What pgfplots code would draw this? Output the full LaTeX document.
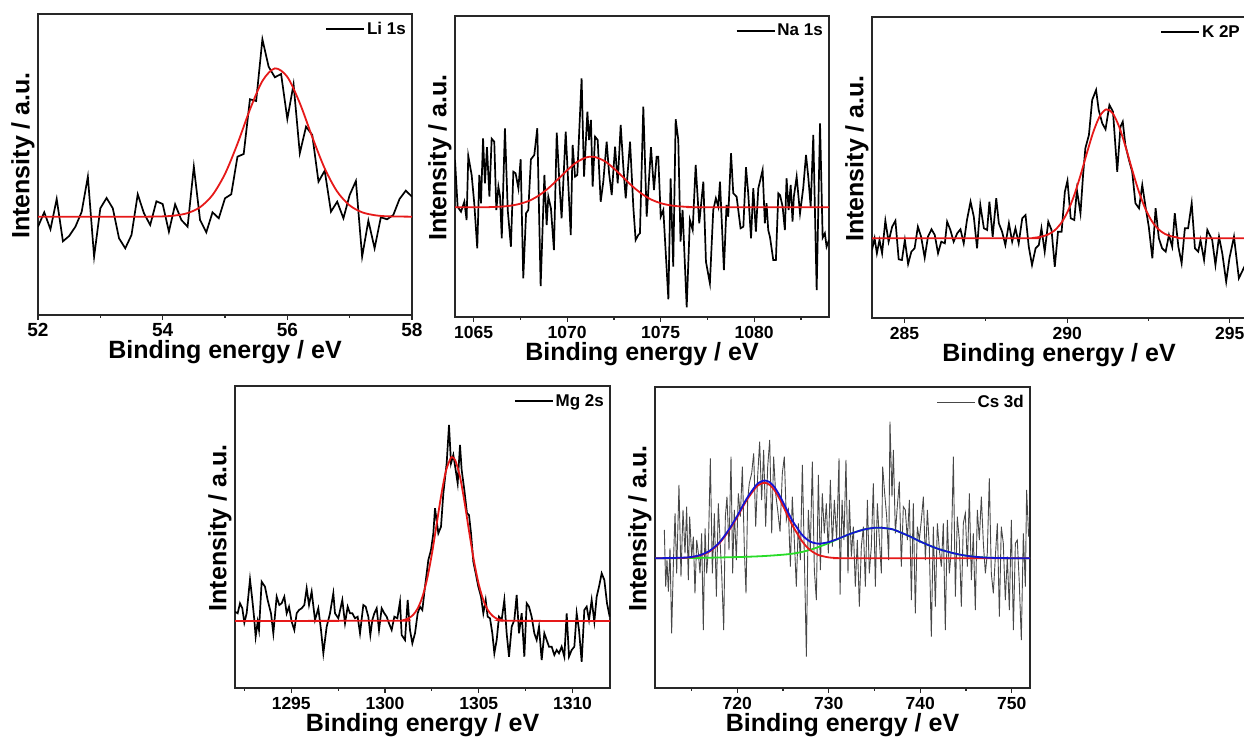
\documentclass[border=0pt]{standalone}
\usepackage{fontspec}
\setmainfont{Liberation Sans}
\usepackage{pgfplots}
\pgfplotsset{compat=1.18}

\definecolor{fitred}{RGB}{230,25,25}
\definecolor{fitblue}{RGB}{20,20,210}
\definecolor{fitgreen}{RGB}{40,220,40}
\definecolor{frame}{RGB}{40,40,40}

\pgfplotsset{
  /pgf/number format/assume math mode=true,
  /pgf/number format/set thousands separator={},
  xps/.style={
    scale only axis, width=374pt, height=301pt,
    ymin=0, ymax=301, ytick=\empty,
    xtick pos=bottom, tick align=outside,
    major tick length=5pt, minor tick length=3pt,
    every tick/.style={line width=1.2pt, frame},
    axis line style={line width=1.7pt, frame},
    xlabel={Binding energy / eV}, ylabel={Intensity / a.u.},
    label style={font=\bfseries\fontsize{25}{25}\selectfont},
    xlabel style={at={(axis description cs:0.5,0)}, anchor=base, yshift=-44pt},
    ylabel style={at={(axis description cs:0,0.53)}, anchor=south},
    tick label style={font=\bfseries\fontsize{17.5}{17.5}\selectfont},
    xticklabel style={anchor=base, yshift=-17pt},
    legend style={at={(1,1)}, anchor=north east, draw=none, fill=none,
      font=\bfseries\fontsize{17}{17}\selectfont, inner sep=0pt,
      xshift=-4pt, yshift=-6pt},
    legend image code/.code={\draw[#1] (0pt,0pt) -- (38pt,0pt);},
  },
  data/.style={black, line width=1.7pt},
  fit/.style={fitred, line width=1.8pt, smooth},
}

\begin{document}
\begin{tikzpicture}
\path[use as bounding box] (0pt,0pt) rectangle (1244pt,738pt);

% Li 1s
\begin{axis}[xps, at={(38pt,423pt)}, anchor=south west,
  xmin=52, xmax=58, xtick={52,54,56,58}, minor xtick={53,55,57},
  tick label style={font=\bfseries\fontsize{19}{19}\selectfont}]
\addplot[data] coordinates {
(52.0,88.3) (52.1,102.7) (52.2,85.7) (52.3,116.0) (52.4,73.7) (52.5,79.0) (52.6,88.3) (52.7,103.0) (52.8,138.3) (52.9,58.3)
(53.0,106.7) (53.1,117.0) (53.2,106.7) (53.3,76.7) (53.4,66.7) (53.5,80.0) (53.6,120.7) (53.7,101.7) (53.8,90.0) (53.9,113.7)
(54.0,111.0) (54.1,83.3) (54.2,110.7) (54.3,95.0) (54.4,88.3) (54.5,148.3) (54.6,95.0) (54.7,82.7) (54.8,102.7) (54.9,96.7)
(55.0,116.7) (55.1,120.7) (55.2,158.3) (55.3,161.0) (55.4,215.7) (55.5,214.0) (55.6,275.7) (55.7,248.3) (55.8,237.7) (55.9,241.0)
(56.0,196.0) (56.1,230.7) (56.2,161.7) (56.3,188.3) (56.4,180.0) (56.5,133.3) (56.6,144.3) (56.7,103.3) (56.8,113.3) (56.9,96.7)
(57.0,120.0) (57.1,134.0) (57.2,58.3) (57.3,94.3) (57.4,66.7) (57.5,97.7) (57.6,95.7) (57.7,100.0) (57.8,116.0) (57.9,124.3) (58.0,118.3)};
\addlegendentry{Li 1s}
\addplot[fit, forget plot] coordinates {
(52.0,98.3) (53.6,98.3) (54.0,98.6) (54.2,99.5) (54.4,101.9) (54.6,107.8) (54.8,120.0) (55.0,141.1) (55.2,171.2) (55.4,205.4)
(55.6,234.0) (55.8,246.6) (56.0,238.1) (56.2,211.9) (56.4,178.0) (56.6,146.5) (56.8,123.4) (57.0,109.6) (57.2,102.7) (57.4,99.8)
(57.6,98.7) (58.0,98.3)};
\end{axis}

% Na 1s
\begin{axis}[xps, at={(455pt,421pt)}, anchor=south west,
  xmin=1064, xmax=1084, xtick={1065,1070,1075,1080}, minor xtick={1067.5,1072.5,1077.5,1082.5}]
\addplot[data] coordinates {
(1064.00,157.0) (1064.14,110.3) (1064.32,105.3) (1064.50,115.3) (1064.62,97.0) (1064.71,161.0) (1064.89,142.0) (1065.03,113.7)
(1065.19,68.7) (1065.30,142.0) (1065.39,113.7) (1065.50,178.7) (1065.60,133.7) (1065.71,169.7) (1065.84,120.3) (1065.96,178.3)
(1066.10,175.3) (1066.21,107.0) (1066.32,130.3) (1066.41,120.3) (1066.50,78.7) (1066.67,188.7) (1066.82,107.0) (1066.99,70.3)
(1067.12,145.3) (1067.24,143.7) (1067.39,128.7) (1067.51,157.7) (1067.65,38.7) (1067.80,103.7) (1067.92,107.0) (1068.06,157.7)
(1068.24,162.0) (1068.40,188.7) (1068.58,31.0) (1068.78,142.0) (1068.90,92.0) (1068.99,120.3) (1069.13,108.7) (1069.29,67.0)
(1069.44,184.3) (1069.61,125.3) (1069.70,98.7) (1069.92,185.3) (1070.19,82.0) (1070.29,172.0) (1070.42,140.3) (1070.54,142.0)
(1070.77,238.7) (1070.90,140.3) (1071.08,205.3) (1071.17,177.0) (1071.27,197.0) (1071.36,130.3) (1071.49,180.3) (1071.63,177.0)
(1071.79,115.3) (1071.93,135.3) (1072.11,175.3) (1072.24,143.7) (1072.38,122.0) (1072.56,170.3) (1072.70,133.7) (1072.86,192.0)
(1073.00,150.3) (1073.13,118.7) (1073.36,175.3) (1073.54,108.7) (1073.66,77.0) (1073.80,82.0) (1073.89,83.7) (1074.07,210.3)
(1074.25,100.3) (1074.48,169.7) (1074.64,127.0) (1074.78,160.3) (1074.87,160.3) (1075.00,100.3) (1075.14,107.0) (1075.41,17.7)
(1075.53,138.7) (1075.67,50.3) (1075.80,197.7) (1075.94,177.0) (1076.06,75.3) (1076.17,107.0) (1076.39,9.7) (1076.56,97.0)
(1076.71,87.0) (1076.87,152.0) (1077.06,93.7) (1077.28,135.3) (1077.42,55.3) (1077.63,33.7) (1077.81,107.0) (1077.95,118.7)
(1078.08,110.3) (1078.17,135.3) (1078.38,47.0) (1078.52,112.0) (1078.61,100.3) (1078.76,163.7) (1078.88,123.7) (1079.06,120.3)
(1079.27,88.7) (1079.42,90.3) (1079.56,149.7) (1079.68,123.7) (1079.83,78.7) (1079.95,128.7) (1080.09,85.3) (1080.22,128.7)
(1080.45,147.0) (1080.57,93.7) (1080.66,113.7) (1080.75,87.0) (1080.84,80.3) (1081.02,57.0) (1081.16,57.0) (1081.29,123.7)
(1081.38,122.0) (1081.52,110.3) (1081.64,87.0) (1081.73,138.7) (1081.84,107.0) (1081.95,132.0) (1082.05,95.3) (1082.12,120.3)
(1082.27,140.3) (1082.45,103.7) (1082.62,128.7) (1082.77,162.0) (1082.89,140.3) (1083.02,110.3) (1083.16,182.0) (1083.34,27.0)
(1083.52,193.7) (1083.66,79.3) (1083.78,83.7) (1083.87,70.3) (1084.00,77.0)};
\addlegendentry{Na 1s}
\addplot[fit, forget plot] coordinates {
(1064,109.7) (1065.5,109.7) (1066,110.0) (1066.5,110.4) (1067,111.4) (1067.5,113.3) (1068,116.5) (1068.5,121.7) (1069,128.9)
(1069.5,137.6) (1070,146.8) (1070.5,154.7) (1071,159.5) (1071.3,160.3) (1071.5,159.9) (1072,155.9) (1072.5,148.5) (1073,139.5)
(1073.5,130.5) (1074,123.0) (1074.5,117.4) (1075,113.8) (1075.5,111.7) (1076,110.6) (1076.5,110.1) (1077,109.7) (1084,109.7)};
\end{axis}

% K 2P
\begin{axis}[xps, at={(872pt,420pt)}, anchor=south west,
  xmin=284, xmax=295.5, xtick={285,290,295}, minor xtick={287.5,292.5}]
\addplot[data] coordinates {
(284.00,68.0) (284.08,79.7) (284.15,64.7) (284.23,78.0) (284.31,64.7) (284.41,97.3) (284.51,76.3) (284.62,91.3) (284.72,97.3)
(284.82,58.7) (284.92,58.0) (285.01,78.0) (285.11,54.0) (285.21,66.3) (285.31,69.7) (285.41,91.3) (285.51,81.3) (285.62,60.3)
(285.72,81.3) (285.83,88.7) (285.93,83.0) (286.03,64.7) (286.13,76.3) (286.24,74.7) (286.31,96.3) (286.41,88.0) (286.51,76.3)
(286.62,84.7) (286.72,88.7) (286.82,74.7) (286.92,98.0) (287.03,116.3) (287.13,101.3) (287.23,69.7) (287.33,113.0) (287.44,89.7)
(287.54,88.0) (287.61,116.3) (287.71,81.3) (287.82,119.7) (287.90,94.7) (288.00,86.3) (288.10,73.0) (288.21,94.7) (288.31,76.3)
(288.41,89.7) (288.51,74.7) (288.62,99.7) (288.72,103.0) (288.82,71.3) (288.92,53.0) (289.03,69.7) (289.13,73.0) (289.21,89.7)
(289.31,66.3) (289.42,96.3) (289.52,88.0) (289.62,51.3) (289.72,86.3) (289.83,86.3) (289.93,126.3) (290.01,137.3) (290.11,99.7)
(290.22,98.0) (290.30,128.0) (290.41,104.7) (290.49,143.0) (290.56,169.7) (290.67,183.0) (290.77,218.0) (290.89,228.0) (290.97,208.0)
(291.08,194.7) (291.18,188.7) (291.30,213.0) (291.41,206.3) (291.54,146.3) (291.64,191.3) (291.71,196.3) (291.79,173.0) (291.90,158.0)
(292.00,146.3) (292.10,114.7) (292.21,109.7) (292.31,133.0) (292.41,111.3) (292.51,91.3) (292.62,59.7) (292.72,109.7) (292.82,79.7)
(292.92,69.7) (293.03,66.3) (293.13,83.0) (293.23,71.3) (293.31,104.7) (293.42,71.3) (293.52,54.7) (293.62,89.7) (293.72,89.7)
(293.83,114.7) (293.93,69.7) (294.03,66.3) (294.10,78.0) (294.21,58.0) (294.31,88.0) (294.46,78.0) (294.56,53.0) (294.67,81.3)
(294.77,64.7) (294.89,36.3) (294.99,59.7) (295.13,81.3) (295.28,39.7) (295.45,51.3) (295.6,60.0)};
\addlegendentry{K 2P}
\addplot[fit, forget plot] coordinates {
(284,79.7) (288.8,79.8) (289.0,80.3) (289.2,81.3) (289.4,83.3) (289.6,87.2) (289.8,94.2) (290.0,105.3) (290.2,121.2) (290.4,141.5)
(290.6,164.1) (290.8,185.6) (291.0,201.6) (291.2,208.6) (291.4,204.8) (291.6,191.1) (291.8,170.9) (292.0,148.2) (292.2,126.9)
(292.4,109.6) (292.6,97.1) (292.8,89.0) (293.0,84.2) (293.2,81.7) (293.4,80.5) (293.6,79.7) (295.6,79.7)};
\end{axis}

% Mg 2s
\begin{axis}[xps, at={(235pt,50pt)}, anchor=south west, width=375pt, height=302pt, ymax=302,
  xmin=1292, xmax=1312, xtick={1295,1300,1305,1310}, minor xtick={1292.5,1297.5,1302.5,1307.5}]
\addplot[data] coordinates {
(1292.000,76.3) (1292.142,74.7) (1292.267,84.7) (1292.391,79.7) (1292.498,65.3) (1292.622,74.7) (1292.800,108.7) (1292.924,88.0)
(1293.031,68.0) (1293.102,51.3) (1293.209,66.3) (1293.280,58.0) (1293.422,106.3) (1293.600,101.3) (1293.742,88.0) (1293.920,74.7)
(1294.044,54.7) (1294.222,91.3) (1294.364,83.0) (1294.489,84.7) (1294.631,91.3) (1294.756,74.7) (1294.880,81.3) (1295.022,66.3)
(1295.164,58.0) (1295.289,74.7) (1295.413,78.0) (1295.556,79.7) (1295.698,83.0) (1295.822,99.7) (1295.947,83.0) (1296.089,96.3)
(1296.267,68.0) (1296.444,79.7) (1296.587,58.0) (1296.711,34.7) (1296.889,61.3) (1297.067,74.7) (1297.244,94.7) (1297.333,74.7)
(1297.511,69.7) (1297.724,88.0) (1297.867,64.7) (1298.009,81.3) (1298.133,74.7) (1298.258,74.7) (1298.400,69.7) (1298.542,71.3)
(1298.667,54.7) (1298.844,83.0) (1298.969,81.3) (1299.111,71.3) (1299.218,53.0) (1299.324,68.0) (1299.431,74.7) (1299.556,79.7)
(1299.680,58.0) (1299.822,79.7) (1299.964,74.7) (1300.089,71.3) (1300.213,64.7) (1300.356,58.0) (1300.498,71.3) (1300.658,69.7)
(1300.800,86.3) (1300.889,53.0) (1301.067,48.0) (1301.209,88.0) (1301.333,58.0) (1301.458,44.7) (1301.600,54.7) (1301.742,74.7)
(1301.867,81.3) (1301.991,78.0) (1302.133,101.3) (1302.311,128.0) (1302.453,138.0) (1302.578,154.7) (1302.667,179.7) (1302.844,154.7)
(1302.987,161.3) (1303.111,194.7) (1303.289,224.7) (1303.413,263.0) (1303.520,224.7) (1303.644,233.0) (1303.769,218.0) (1303.876,204.7)
(1304.000,243.0) (1304.089,218.0) (1304.231,198.0) (1304.373,174.7) (1304.480,173.0) (1304.587,154.7) (1304.711,126.3) (1304.836,114.7)
(1304.978,101.3) (1305.120,91.3) (1305.244,74.7) (1305.369,88.0) (1305.476,71.3) (1305.600,69.7) (1305.724,54.7) (1305.831,34.7)
(1305.956,48.0) (1306.080,71.3) (1306.222,68.0) (1306.364,88.0) (1306.489,54.7) (1306.613,31.3) (1306.756,61.3) (1306.898,68.0)
(1307.022,93.0) (1307.147,54.7) (1307.289,74.7) (1307.431,31.3) (1307.556,84.7) (1307.680,81.3) (1307.822,71.3) (1307.964,54.7)
(1308.089,48.0) (1308.213,61.3) (1308.356,28.0) (1308.498,54.7) (1308.622,48.0) (1308.747,41.3) (1308.889,41.3) (1309.031,33.0)
(1309.156,38.0) (1309.280,34.7) (1309.422,41.3) (1309.564,31.3) (1309.689,74.7) (1309.813,31.3) (1309.956,38.0) (1310.098,41.3)
(1310.222,74.7) (1310.347,58.0) (1310.489,26.3) (1310.631,78.0) (1310.756,81.3) (1310.880,68.0) (1311.022,88.0) (1311.164,66.3)
(1311.289,91.3) (1311.413,101.3) (1311.556,114.7) (1311.698,108.0) (1311.840,84.7) (1311.982,71.3)};
\addlegendentry{Mg 2s}
\addplot[fit, forget plot] coordinates {
(1292,67.0) (1300.75,67.3) (1301.0,68.0) (1301.25,69.7) (1301.5,73.1) (1301.75,79.8) (1302.0,91.4) (1302.25,109.4) (1302.5,134.0)
(1302.75,163.3) (1303.0,193.0) (1303.25,217.1) (1303.5,229.7) (1303.59,230.7) (1303.75,227.6) (1304.0,211.3) (1304.25,184.9)
(1304.5,154.8) (1304.75,126.5) (1305.0,103.7) (1305.25,87.6) (1305.5,77.5) (1305.75,71.9) (1306.0,69.1) (1306.25,67.8)
(1306.5,67.2) (1312,67.0)};
\end{axis}

% Cs 3d
\begin{axis}[xps, at={(655pt,50pt)}, anchor=south west, width=375pt,
  xmin=711, xmax=752, xtick={720,730,740,750}, minor xtick={715,725,735,745}]
\addplot[black!72, line width=0.9pt] coordinates {
(712.02,158.0) (712.17,101.3) (712.31,128.0) (712.46,96.3) (712.64,139.7) (712.82,54.7) (713.00,121.3) (713.19,174.7) (713.37,114.7)
(713.62,203.0) (713.84,111.3) (714.06,178.0) (714.28,134.7) (714.46,181.3) (714.64,108.0) (714.79,171.3) (715.01,131.3) (715.19,151.3)
(715.37,94.7) (715.56,148.0) (715.74,134.7) (715.92,114.7) (716.10,154.7) (716.28,58.0) (716.47,159.7) (716.65,114.7) (716.83,138.0)
(717.05,229.7) (717.27,114.7) (717.49,174.7) (717.71,91.3) (717.92,184.7) (718.11,148.0) (718.29,114.7) (718.51,58.0) (718.69,171.3)
(718.87,191.3) (719.09,138.0) (719.31,231.3) (719.49,114.7) (719.67,178.0) (719.89,128.0) (720.11,194.7) (720.33,171.3) (720.55,221.3)
(720.77,138.0) (720.95,94.7) (721.13,188.0) (721.31,204.7) (721.57,214.7) (721.79,234.7) (722.01,161.3) (722.22,211.3) (722.44,246.3)
(722.66,188.0) (722.88,238.0) (723.10,161.3) (723.32,221.3) (723.54,248.0) (723.76,154.7) (723.97,231.3) (724.19,194.7) (724.41,178.0)
(724.67,156.3) (724.92,214.7) (725.14,231.3) (725.36,168.0) (725.58,178.0) (725.80,121.3) (726.01,191.3) (726.23,148.0) (726.45,101.3)
(726.67,164.7) (726.89,128.0) (727.11,223.0) (727.33,131.3) (727.55,31.3) (727.76,178.0) (727.98,138.0) (728.20,226.3) (728.42,118.0)
(728.64,88.0) (728.86,213.0) (729.08,118.0) (729.29,194.7) (729.51,154.7) (729.73,184.7) (729.95,134.7) (730.17,208.0) (730.39,141.3)
(730.61,188.0) (730.86,148.0) (731.12,229.7) (731.23,93.3) (731.45,188.0) (731.66,148.0) (731.88,228.0) (732.10,114.7) (732.25,188.0)
(732.47,131.3) (732.68,161.3) (732.90,101.3) (733.12,148.0) (733.34,81.3) (733.56,141.3) (733.78,161.3) (734.00,101.3) (734.22,188.0)
(734.43,114.7) (734.65,141.3) (734.87,204.7) (735.09,101.3) (735.31,184.7) (735.53,148.0) (735.75,114.7) (735.89,221.3) (736.11,194.7)
(736.33,171.3) (736.55,128.0) (736.69,266.3) (736.91,191.3) (737.06,238.0) (737.28,154.7) (737.49,181.3) (737.71,206.3) (737.93,121.3)
(738.15,181.3) (738.37,178.0) (738.59,148.0) (738.81,188.0) (739.03,88.0) (739.24,184.7) (739.46,74.7) (739.68,161.3) (739.90,148.0)
(740.12,168.0) (740.34,191.3) (740.56,128.0) (740.78,178.0) (740.99,141.3) (741.21,51.3) (741.43,161.3) (741.65,81.3) (741.87,164.7)
(742.09,138.0) (742.31,121.3) (742.52,164.7) (742.74,58.0) (742.96,168.0) (743.18,114.7) (743.40,138.0) (743.62,231.3) (743.84,91.3)
(744.05,171.3) (744.27,148.0) (744.49,81.3) (744.71,164.7) (744.93,174.7) (745.15,121.3) (745.37,194.7) (745.59,108.0) (745.80,154.7)
(746.02,78.0) (746.24,178.0) (746.46,148.0) (746.68,191.3) (746.90,144.7) (747.12,114.7) (747.33,134.7) (747.55,209.7) (747.77,114.7)
(747.99,94.7) (748.21,131.3) (748.43,164.7) (748.65,71.3) (748.86,161.3) (749.08,144.7) (749.30,88.0) (749.52,131.3) (749.74,78.0)
(749.96,168.0) (750.18,58.0) (750.40,144.7) (750.61,148.0) (750.83,104.7) (751.05,48.0) (751.27,154.7) (751.49,101.3) (751.63,198.0)
(751.85,151.3)};
\addlegendentry{Cs 3d}
\addplot[fit, fitgreen, forget plot] coordinates {
(711,129.7) (715,130.0) (718,130.5) (721,131.2) (723,132.0) (725,133.3) (726,134.3) (727,135.9) (728,138.3) (729,141.4) (730,145.0)
(731,149.0) (732,152.9) (733,156.2) (734,158.8) (735,160.2) (735.5,160.3) (736,160.0) (737,158.6) (738,155.0) (739,151.0) (740,146.5)
(741,142.5) (742,139.0) (743,136.3) (744,134.0) (745,132.3) (746,131.2) (747,130.5) (748,130.1) (750,129.8) (752,129.7)};
\addplot[fit, forget plot] coordinates {
(711,129.7) (714,130.05) (715,130.8) (716,132.7) (717,136.7) (718,144.4) (719,156.4) (720,171.1) (721,187.5) (722,200.3) (722.5,203.9)
(723,205.2) (723.5,203.4) (724,198.6) (724.5,191.2) (725,182.1) (725.5,172.4) (726,163.0) (726.5,155.2) (727,147.8) (727.5,142.0)
(728,137.7) (728.5,134.7) (729,132.6) (730,130.6) (731,129.9) (732,129.7) (752,129.7)};
\addplot[fit, fitblue, forget plot] coordinates {
(711,129.7) (714,130.3) (715,131.1) (716,133.1) (717,137.4) (718,145.2) (719,157.4) (720,172.3) (721,189.0) (722,202.2) (722.5,206.0)
(723,207.5) (723.5,206.0) (724,201.6) (724.5,194.5) (725,185.7) (725.5,176.5) (726,167.6) (726.5,160.6) (727,154.0) (727.5,149.4)
(728,146.3) (728.5,144.8) (729,144.3) (729.5,145.0) (730,145.9) (731,149.2) (732,152.9) (733,156.2) (734,158.8) (735,160.2)
(735.5,160.3) (736,160.0) (737,158.6) (738,155.0) (739,151.0) (740,146.5) (741,142.5) (742,139.0) (743,136.3) (744,134.0) (745,132.3)
(746,131.2) (747,130.5) (748,130.1) (750,129.8) (752,129.7)};
\end{axis}
\end{tikzpicture}
\end{document}
